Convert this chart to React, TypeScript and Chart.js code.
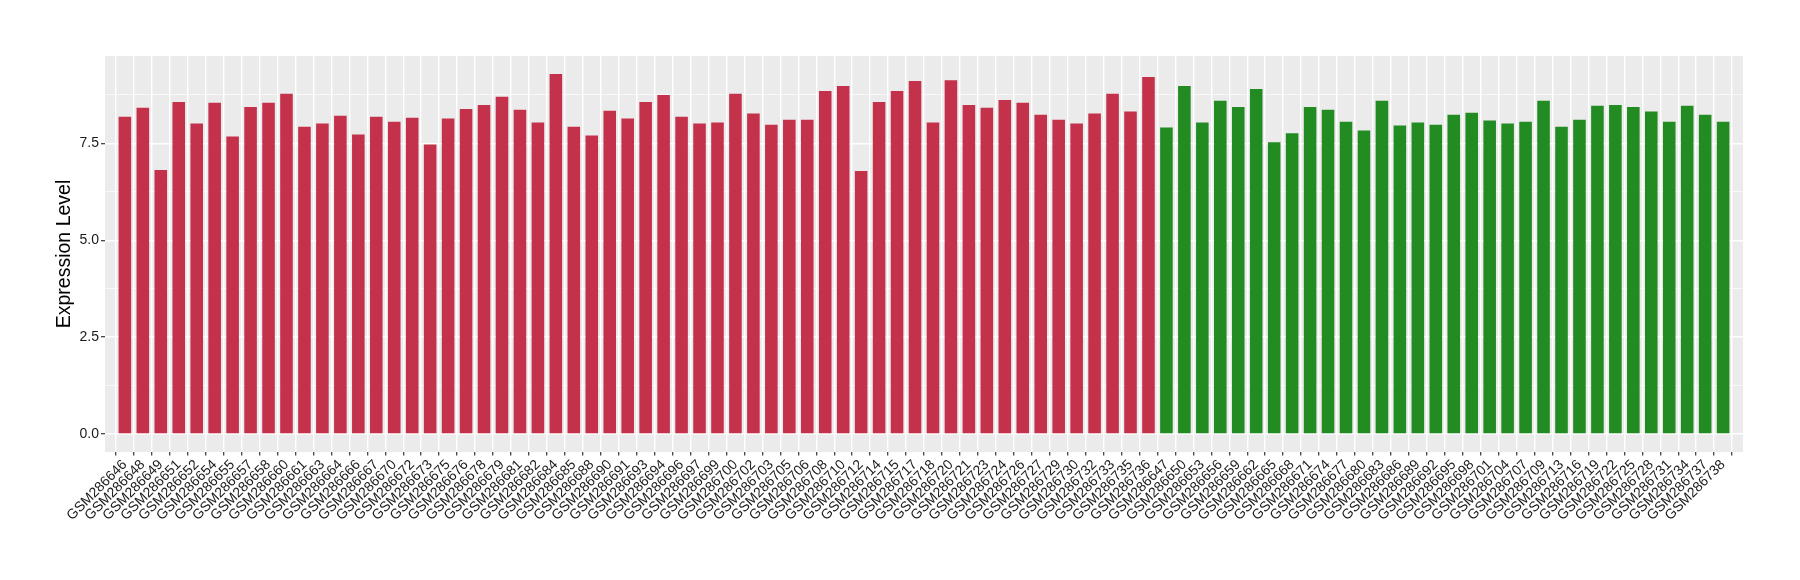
import { useEffect, useRef } from 'react';
import { Chart, registerables } from 'chart.js';

Chart.register(...registerables);

const redSamples = [
  'GSM286646', 'GSM286648', 'GSM286649', 'GSM286651', 'GSM286652', 'GSM286654', 'GSM286655', 'GSM286657',
  'GSM286658', 'GSM286660', 'GSM286661', 'GSM286663', 'GSM286664', 'GSM286666', 'GSM286667', 'GSM286670',
  'GSM286672', 'GSM286673', 'GSM286675', 'GSM286676', 'GSM286678', 'GSM286679', 'GSM286681', 'GSM286682',
  'GSM286684', 'GSM286685', 'GSM286688', 'GSM286690', 'GSM286691', 'GSM286693', 'GSM286694', 'GSM286696',
  'GSM286697', 'GSM286699', 'GSM286700', 'GSM286702', 'GSM286703', 'GSM286705', 'GSM286706', 'GSM286708',
  'GSM286710', 'GSM286712', 'GSM286714', 'GSM286715', 'GSM286717', 'GSM286718', 'GSM286720', 'GSM286721',
  'GSM286723', 'GSM286724', 'GSM286726', 'GSM286727', 'GSM286729', 'GSM286730', 'GSM286732', 'GSM286733',
  'GSM286735', 'GSM286736',
];
const redValues = [
  8.19, 8.42, 6.81, 8.57, 8.01, 8.55, 7.68, 8.44,
  8.55, 8.78, 7.93, 8.01, 8.21, 7.73, 8.19, 8.06,
  8.16, 7.47, 8.14, 8.39, 8.49, 8.70, 8.37, 8.04,
  9.29, 7.93, 7.70, 8.34, 8.14, 8.57, 8.75, 8.19,
  8.01, 8.04, 8.78, 8.27, 7.98, 8.11, 8.11, 8.85,
  8.98, 6.79, 8.57, 8.85, 9.11, 8.04, 9.13, 8.49,
  8.42, 8.62, 8.55, 8.24, 8.11, 8.01, 8.27, 8.78,
  8.32, 9.21,
];
const greenSamples = [
  'GSM286647', 'GSM286650', 'GSM286653', 'GSM286656', 'GSM286659', 'GSM286662', 'GSM286665', 'GSM286668',
  'GSM286671', 'GSM286674', 'GSM286677', 'GSM286680', 'GSM286683', 'GSM286686', 'GSM286689', 'GSM286692',
  'GSM286695', 'GSM286698', 'GSM286701', 'GSM286704', 'GSM286707', 'GSM286709', 'GSM286713', 'GSM286716',
  'GSM286719', 'GSM286722', 'GSM286725', 'GSM286728', 'GSM286731', 'GSM286734', 'GSM286737', 'GSM286738',
];
const greenValues = [
  7.91, 8.98, 8.04, 8.60, 8.44, 8.90, 7.53, 7.76,
  8.44, 8.37, 8.06, 7.83, 8.60, 7.96, 8.04, 7.98,
  8.24, 8.29, 8.09, 8.01, 8.06, 8.60, 7.93, 8.11,
  8.47, 8.49, 8.44, 8.32, 8.06, 8.47, 8.24, 8.06,
];
const yGridValues = [0, 1.25, 2.5, 3.75, 5, 6.25, 7.5, 8.75];
const yTickLabels = [0, 2.5, 5, 7.5];

const RED = '#C3314A';
const GREEN = '#228B22';
const FONT = "'Liberation Sans', Arial, Helvetica, sans-serif";

export default function App() {
  const ref = useRef<HTMLCanvasElement | null>(null);

  useEffect(() => {
    if (!ref.current) return;
    const categories = [...redSamples, ...greenSamples];
    const values = [...redValues, ...greenValues];
    const colors = [...redSamples.map(() => RED), ...greenSamples.map(() => GREEN)];
    const n = categories.length;
    const yMax = Math.max(...values);

    const panelBg = {
      id: 'panelBg',
      beforeDraw(chart: any) {
        const { ctx, chartArea } = chart;
        ctx.save();
        ctx.fillStyle = '#EBEBEB';
        ctx.fillRect(chartArea.left, chartArea.top, chartArea.right - chartArea.left, chartArea.bottom - chartArea.top);
        ctx.restore();
      },
    };

    const chart = new Chart(ref.current, {
      type: 'bar',
      data: {
        datasets: [
          {
            data: values.map((v, i) => ({ x: i + 1, y: v })),
            backgroundColor: colors,
            borderWidth: 0,
            barPercentage: 0.7,
            categoryPercentage: 1,
          },
        ],
      },
      options: {
        responsive: false,
        animation: false,
        layout: { padding: { top: 56, right: 57, left: 0, bottom: 0 } },
        plugins: { legend: { display: false }, tooltip: { enabled: false } },
        scales: {
          x: {
            type: 'linear',
            min: 0.4,
            max: n + 0.6,
            afterBuildTicks: (scale: any) => {
              scale.ticks = categories.map((_, i) => ({ value: i + 1 }));
            },
            afterFit: (scale: any) => {
              scale.height = 128;
              scale.paddingLeft = 0;
              scale.paddingRight = 0;
            },
            ticks: {
              autoSkip: false,
              minRotation: 45,
              maxRotation: 45,
              padding: 1,
              color: '#1a1a1a',
              font: { family: FONT, size: 14 },
              callback: (v: any) => categories[Math.round(v) - 1] ?? '',
            },
            grid: {
              color: '#FFFFFF',
              lineWidth: 1.4,
              tickColor: '#333333',
              tickLength: 3.5,
              tickWidth: 1.2,
            },
            border: { display: false },
          },
          y: {
            min: -0.05 * yMax,
            max: 1.05 * yMax,
            afterBuildTicks: (scale: any) => {
              scale.ticks = yGridValues.map((v) => ({ value: v }));
            },
            afterFit: (scale: any) => {
              scale.width = 105;
            },
            ticks: {
              padding: 2,
              color: '#1a1a1a',
              font: { family: FONT, size: 14 },
              callback: (v: any) => (yTickLabels.includes(v) ? Number(v).toFixed(1) : ''),
            },
            grid: {
              color: '#FFFFFF',
              lineWidth: (ctx: any) => (yTickLabels.includes(ctx.tick?.value) ? 1.4 : 0.7),
              tickColor: (ctx: any) => (yTickLabels.includes(ctx.tick?.value) ? '#333333' : 'rgba(0,0,0,0)'),
              tickLength: 4,
              tickWidth: 1.2,
            },
            border: { display: false },
            title: {
              display: true,
              text: 'Expression Level',
              color: '#000000',
              font: { family: FONT, size: 19.5 },
              padding: { top: 53, bottom: 0 },
            },
          },
        },
      },
      plugins: [panelBg],
    } as any);

    return () => chart.destroy();
  }, []);

  return (
    <div style={{ position: 'absolute', left: 0, top: 0, width: 1800, height: 580, background: '#FFFFFF' }}>
      <canvas ref={ref} width={1800} height={580} />
    </div>
  );
}
